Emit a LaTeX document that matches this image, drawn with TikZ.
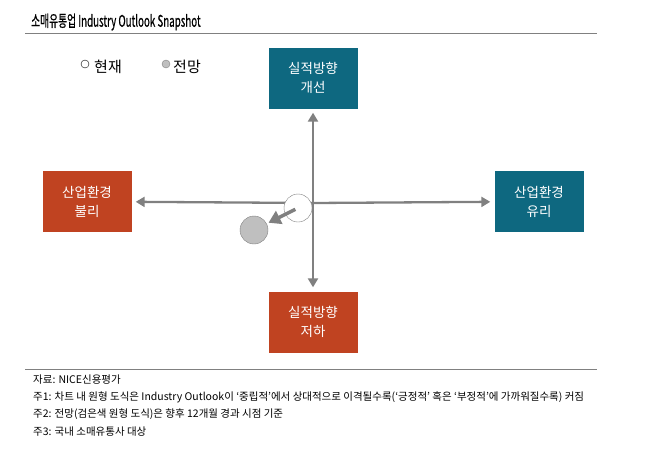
\documentclass[tikz,border=0pt]{standalone}
\usepackage{fontspec}
\setmainfont{Noto Sans CJK KR}
\newfontfamily\titlefont[FakeBold=0.8]{Noto Sans CJK KR}
\usepackage{graphicx}
\usetikzlibrary{arrows.meta}

\definecolor{tealbox}{RGB}{14,104,128}
\definecolor{redbox}{RGB}{192,67,33}
\definecolor{axisgray}{RGB}{128,128,128}
\definecolor{dotgray}{RGB}{191,191,191}

\tikzset{
  outbox/.style={minimum width=89pt,minimum height=61pt,inner sep=0pt,align=center,
    text=white,font=\fontsize{13.5}{19}\selectfont},
  axisarrow/.style={draw=axisgray,line width=2.3pt,-{Triangle[length=9pt,width=10pt]}},
  note/.style={anchor=west,inner sep=0pt,font=\fontsize{10.5}{12}\selectfont}
}

\begin{document}
\begin{tikzpicture}[x=1pt,y=-1pt]
   \useasboundingbox (0,0) rectangle (658,469);
   % title
   \node[anchor=west,inner sep=0pt] (title) at (31,22)
     {\scalebox{0.61}[1]{\fontsize{16}{18}\titlefont 소매유통업 Industry Outlook Snapshot}};
   \draw[color=axisgray,line width=1pt] (25,33) -- (597,33);
   % legend
   \draw[fill=white] (85,64) circle (4pt);
   \node[anchor=west,inner sep=0pt,font=\fontsize{15}{18}\selectfont] (nowkey) at (94,67) {현재};
   \draw[fill=dotgray,draw=gray] (166,64) circle (4pt);
   \node[anchor=west,inner sep=0pt,font=\fontsize{15}{18}\selectfont] (fcstkey) at (173,67) {전망};
   % boxes
   \node[outbox,fill=tealbox] (up) at (313,78) {실적방향\\개선};
   \node[outbox,fill=redbox] (down) at (313,322) {실적방향\\저하};
   \node[outbox,fill=redbox] (left) at (87,201.5) {산업환경\\불리};
   \node[outbox,fill=tealbox] (right) at (539,201.5) {산업환경\\유리};
   % axes
   \coordinate (ctr) at (313,203);
   \draw[axisarrow,shorten >=4pt] (ctr) -- (up);
   \draw[axisarrow,shorten >=4pt] (ctr) -- (down);
   \draw[axisarrow,shorten >=4pt] (ctr) -- (left);
   \draw[axisarrow,shorten >=4pt] (ctr) -- (right);
   % circles
   \node[circle,draw=gray,fill=white,minimum size=28pt,inner sep=0pt] (now) at (298,208) {};
   \node[circle,draw=gray,fill=dotgray,minimum size=28pt,inner sep=0pt] (fcst) at (254,230) {};
   \draw[draw=axisgray,line width=3.5pt,-{Triangle[length=12pt,width=14pt]},shorten <=3pt,shorten >=2pt] (now.center) -- (fcst);
   % notes
   \draw[color=axisgray,line width=1pt] (25,369) -- (597,369);
   \node[note] (src) at (33,380) {자료: NICE신용평가};
   \node[note] (n1) at (33,397) {주1: 차트 내 원형 도식은 Industry Outlook이 ‘중립적’에서 상대적으로 이격될수록(‘긍정적’ 혹은 ‘부정적’에 가까워질수록) 커짐};
   \node[note] (n2) at (33,414) {주2: 전망(검은색 원형 도식)은 향후 12개월 경과 시점 기준};
   \node[note] (n3) at (33,432) {주3: 국내 소매유통사 대상};
\end{tikzpicture}
\end{document}
